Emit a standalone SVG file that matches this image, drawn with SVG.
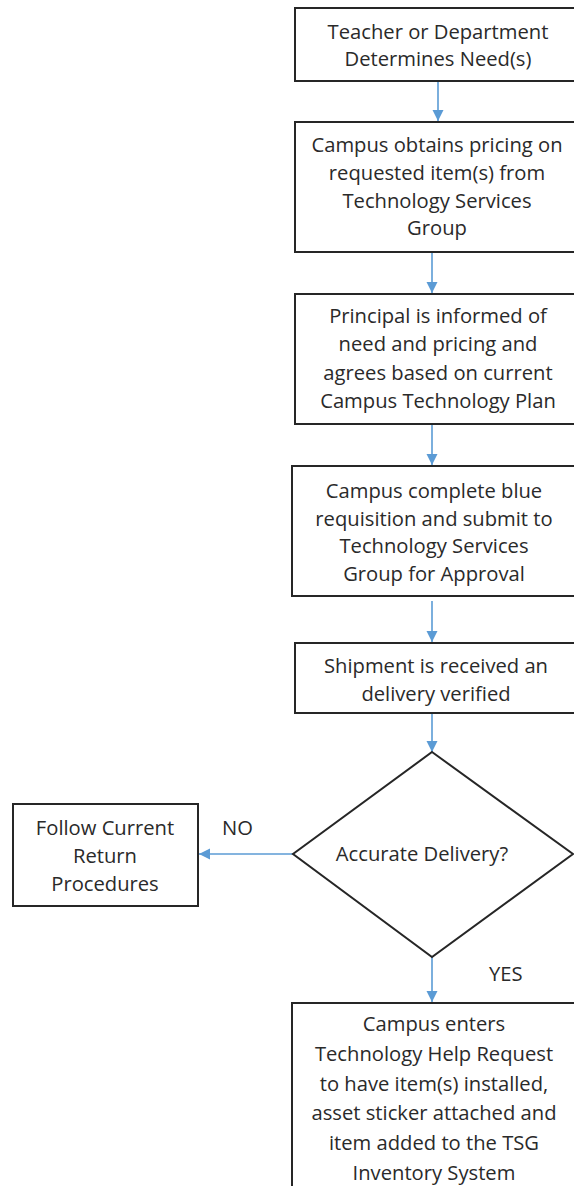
<svg xmlns="http://www.w3.org/2000/svg" width="574" height="1186" viewBox="0 0 574 1186">
  <style>
    .box { fill: #ffffff; stroke: #262626; stroke-width: 2; }
    .lbl { font-family: "Open Sans", "Liberation Sans", sans-serif; font-size: 20.2px; fill: #2a2a2a; text-anchor: middle; dominant-baseline: central; }
    .tag { font-family: "Open Sans", "Liberation Sans", sans-serif; font-size: 20.2px; fill: #2a2a2a; dominant-baseline: central; }
    .flow { stroke: #5B9BD5; stroke-width: 1.6; fill: none; marker-end: url(#head); }
  </style>
  <defs>
    <marker id="head" viewBox="0 0 10 10" refX="10" refY="5" markerWidth="7" markerHeight="7" markerUnits="strokeWidth" orient="auto">
      <path d="M0,0 L10,5 L0,10 z" fill="#5B9BD5"/>
    </marker>
  </defs>
  <rect width="574" height="1186" fill="#ffffff"/>

  <g id="connectors">
    <line class="flow" x1="438" y1="81" x2="438" y2="121"/>
    <line class="flow" x1="432" y1="252" x2="432" y2="293"/>
    <line class="flow" x1="432" y1="424" x2="432" y2="465"/>
    <line class="flow" x1="432" y1="601" x2="432" y2="642"/>
    <line class="flow" x1="432" y1="713" x2="432" y2="752"/>
    <line class="flow" x1="293" y1="854" x2="199" y2="854"/>
    <line class="flow" x1="432" y1="957" x2="432" y2="1002"/>
    <text class="tag" x="222" y="827">NO</text>
    <text class="tag" x="489" y="973">YES</text>
  </g>

  <g id="need">
    <rect class="box" x="295" y="8" width="290" height="73"/>
    <text class="lbl" x="438" y="31">Teacher or Department</text>
    <text class="lbl" x="438" y="58">Determines Need(s)</text>
  </g>

  <g id="pricing">
    <rect class="box" x="295" y="122" width="290" height="130"/>
    <text class="lbl" x="437" y="144">Campus obtains pricing on</text>
    <text class="lbl" x="437" y="172">requested item(s) from</text>
    <text class="lbl" x="437" y="200">Technology Services</text>
    <text class="lbl" x="437" y="227">Group</text>
  </g>

  <g id="principal">
    <rect class="box" x="295" y="294" width="290" height="130"/>
    <text class="lbl" x="438" y="315">Principal is informed of</text>
    <text class="lbl" x="438" y="343">need and pricing and</text>
    <text class="lbl" x="438" y="372">agrees based on current</text>
    <text class="lbl" x="438" y="400">Campus Technology Plan</text>
  </g>

  <g id="requisition">
    <rect class="box" x="292" y="466" width="290" height="130"/>
    <text class="lbl" x="434" y="490">Campus complete blue</text>
    <text class="lbl" x="434" y="518">requisition and submit to</text>
    <text class="lbl" x="434" y="545">Technology Services</text>
    <text class="lbl" x="434" y="573">Group for Approval</text>
  </g>

  <g id="shipment">
    <rect class="box" x="295" y="643" width="290" height="70"/>
    <text class="lbl" x="436" y="665">Shipment is received an</text>
    <text class="lbl" x="436" y="693">delivery verified</text>
  </g>

  <g id="decision">
    <polygon class="box" points="432,752 573,854 432,957 293,854"/>
    <text class="lbl" x="422" y="853">Accurate Delivery?</text>
  </g>

  <g id="return">
    <rect class="box" x="13" y="804" width="185" height="102"/>
    <text class="lbl" x="105" y="827">Follow Current</text>
    <text class="lbl" x="105" y="855">Return</text>
    <text class="lbl" x="105" y="883">Procedures</text>
  </g>

  <g id="install">
    <rect class="box" x="292" y="1003" width="290" height="200"/>
    <text class="lbl" x="434" y="1023">Campus enters</text>
    <text class="lbl" x="434" y="1053">Technology Help Request</text>
    <text class="lbl" x="434" y="1083">to have item(s) installed,</text>
    <text class="lbl" x="434" y="1112">asset sticker attached and</text>
    <text class="lbl" x="434" y="1142">item added to the TSG</text>
    <text class="lbl" x="434" y="1172">Inventory System</text>
  </g>
</svg>
